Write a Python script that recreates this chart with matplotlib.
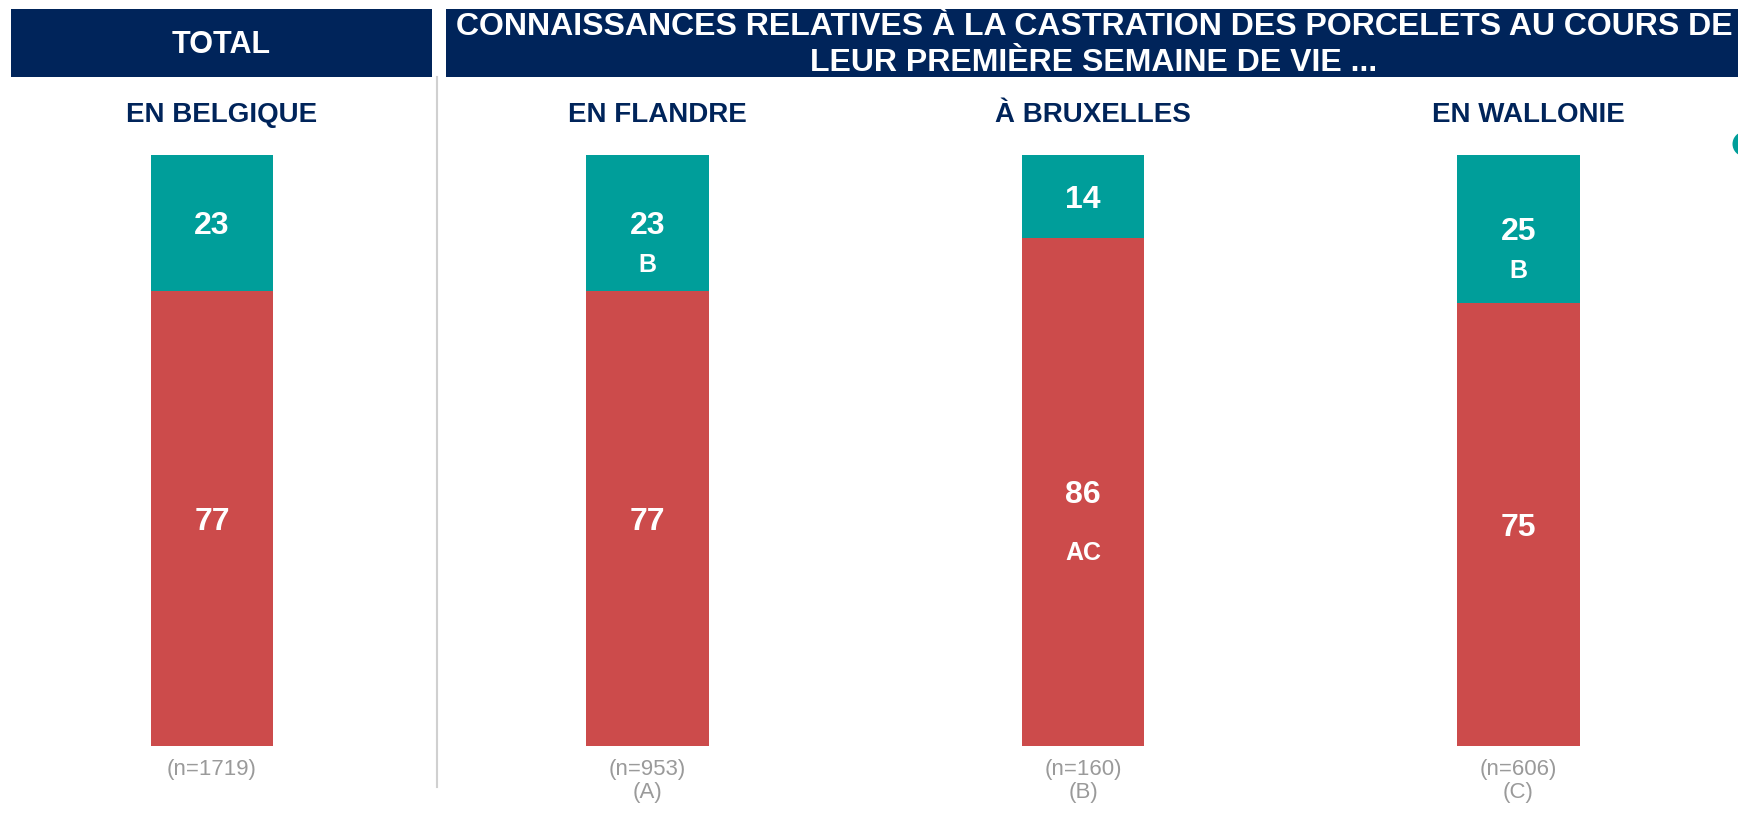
import matplotlib
matplotlib.use("Agg")
import matplotlib.pyplot as plt
from matplotlib.patches import Rectangle, Ellipse
from matplotlib.transforms import blended_transform_factory

plt.rcParams["font.family"] = ["Liberation Sans", "DejaVu Sans"]

regions = ["EN BELGIQUE", "EN FLANDRE", "À BRUXELLES", "EN WALLONIE"]
n_labels = ["(n=1719)", "(n=953)\n(A)", "(n=160)\n(B)", "(n=606)\n(C)"]
oui = [23, 23, 14, 25]      # teal, en haut
non = [77, 77, 86, 75]      # rouge, en bas
sig_oui = ["", "B", "", "B"]
sig_non = ["", "", "AC", ""]

NAVY = "#00245A"
TEAL = "#009E9A"
RED = "#CC4B4B"
GREY = "#9A9A9A"

W, H = 1738, 831
fig = plt.figure(figsize=(W / 100, H / 100), dpi=100)
ax = fig.add_axes([0, 85 / H, 1, 591 / H])
x = list(range(len(regions)))
bw = 0.2824
ax.bar(x, non, width=bw, color=RED, zorder=2)
ax.bar(x, oui, width=bw, bottom=non, color=TEAL, zorder=2)
ax.set_xlim(-0.4868, 3.504)
ax.set_ylim(0, 100)
ax.axis("off")

lbl = dict(textcoords="offset points", ha="center", va="center",
           color="white", fontweight="bold")
for i in x:
    ax.annotate(str(oui[i]), (i, non[i] + oui[i] / 2), xytext=(0, -2.5),
                fontsize=23, **lbl)
    ax.annotate(str(non[i]), (i, non[i] / 2), xytext=(0, -2.5),
                fontsize=23, **lbl)
    if sig_oui[i]:
        ax.annotate(sig_oui[i], (i, non[i] + oui[i] / 2), xytext=(0, -30),
                    fontsize=18, **lbl)
    if sig_non[i]:
        ax.annotate(sig_non[i], (i, non[i] / 2), xytext=(0, -44),
                    fontsize=18, **lbl)

# titres de région + effectifs (x en données, y en fraction de figure)
tr = blended_transform_factory(ax.transData, fig.transFigure)
for i in x:
    ax.annotate(regions[i], (i, 1 - 115 / H), xycoords=tr, xytext=(7, 0),
                textcoords="offset points", ha="center", va="center",
                color=NAVY, fontsize=20, fontweight="bold")
    ax.text(i, 1 - 759 / H, n_labels[i], transform=tr, ha="center", va="top",
            color=GREY, fontsize=16, linespacing=1.15,
            family=["Liberation Sans Narrow", "Liberation Sans", "DejaVu Sans"])

# bandeaux d'en-tête
fig.add_artist(Rectangle((11 / W, 1 - 77 / H), 421 / W, 68 / H,
                         transform=fig.transFigure, color=NAVY, lw=0))
fig.add_artist(Rectangle((446 / W, 1 - 77 / H), 1 - 446 / W, 68 / H,
                         transform=fig.transFigure, color=NAVY, lw=0))
fig.text(221.5 / W, 1 - 45 / H, "TOTAL", ha="center", va="center",
         color="white", fontsize=22, fontweight="bold")
fig.text(1094 / W, 1 - 27 / H,
         "CONNAISSANCES RELATIVES À LA CASTRATION DES PORCELETS AU COURS DE",
         ha="center", va="center", color="white", fontsize=23, fontweight="bold")
fig.text(1094 / W, 1 - 63 / H, "LEUR PREMIÈRE SEMAINE DE VIE ...",
         ha="center", va="center", color="white", fontsize=23, fontweight="bold")

# séparateur vertical
fig.add_artist(plt.Line2D([437 / W, 437 / W], [1 - 77 / H, 1 - 787 / H],
                          transform=fig.transFigure, color="#D0D0D0", lw=1.5))

# pastille coupée au bord droit
fig.add_artist(Ellipse((1745 / W, 1 - 144 / H), 25 / W, 25 / H,
                       transform=fig.transFigure, color=TEAL, lw=0))

fig.savefig("out.png", dpi=100, facecolor="white")
